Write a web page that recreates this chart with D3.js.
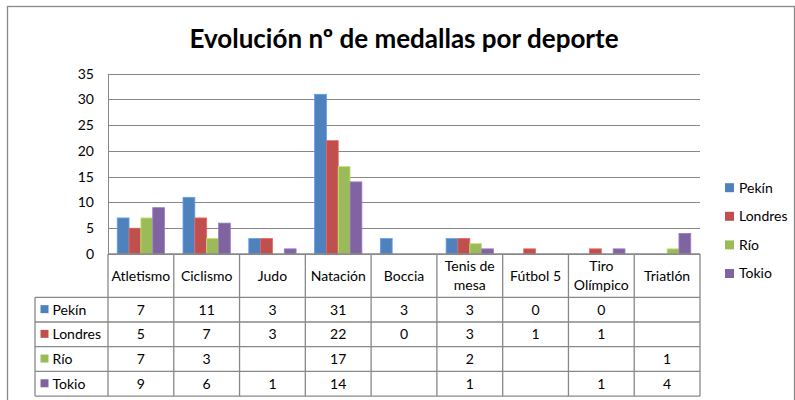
<!DOCTYPE html>
<html>
<head>
<meta charset="utf-8">
<script src="https://cdn.jsdelivr.net/npm/d3@7"></script>
<style>
  body { margin: 0; background: #fff; }
  text { font-family: Lato, "Open Sans", sans-serif; fill: #000; }
</style>
</head>
<body>
<div id="chart"></div>
<script>
const categories = ["Atletismo", "Ciclismo", "Judo", "Natación", "Boccia", "Tenis de\nmesa", "Fútbol 5", "Tiro\nOlímpico", "Triatlón"];
const seriesNames = ["Pekín", "Londres", "Río", "Tokio"];
const pekin   = [7, 11, 3, 31, 3, 3, 0, 0, null];
const londres = [5, 7, 3, 22, 0, 3, 1, 1, null];
const rio     = [7, 3, null, 17, null, 2, null, null, 1];
const tokio   = [9, 6, 1, 14, null, 1, null, 1, 4];
const yTicks  = [0, 5, 10, 15, 20, 25, 30, 35];
const colors  = ["#4F81BD", "#C0504D", "#9BBB59", "#8064A2"];

const values = [pekin, londres, rio, tokio];
const W = 795, H = 400;
const plot = { left: 108, right: 700, top: 73.7, bottom: 254 };
const table = { left: 35, headerBottom: 297.3, rowH: 24.7 };
const gridColor = "#888888";

const svg = d3.select("#chart").append("svg")
  .attr("width", W).attr("height", H);

// outer frame
svg.append("rect")
  .attr("x", 7.5).attr("y", 6.5).attr("width", 787).attr("height", 420)
  .attr("fill", "none").attr("stroke", gridColor).attr("stroke-width", 1.3);

svg.append("text")
  .attr("x", 404).attr("y", 47.5)
  .attr("text-anchor", "middle")
  .style("font-size", "26px").style("font-weight", "bold")
  .text("Evolución nº de medallas por deporte");

const x = d3.scaleBand().domain(categories).range([plot.left, plot.right]);
const xs = d3.scaleBand().domain(seriesNames).range([0, x.bandwidth()]).paddingOuter(0.78);
const y = d3.scaleLinear().domain([0, 35]).range([plot.bottom, plot.top]);

// gridlines
svg.append("g").selectAll("line").data(yTicks).join("line")
  .attr("x1", plot.left).attr("x2", plot.right)
  .attr("y1", d => Math.round(y(d)) + 0.5).attr("y2", d => Math.round(y(d)) + 0.5)
  .attr("stroke", gridColor).attr("stroke-width", 1);

// y axis
const yAxis = svg.append("g")
  .attr("transform", `translate(${plot.left},0)`)
  .call(d3.axisLeft(y).tickValues(yTicks).tickSize(0).tickPadding(14));
yAxis.select(".domain").attr("stroke", gridColor);
yAxis.selectAll("text").style("font-size", "14px").style("font-family", "Lato, sans-serif").attr("fill", "#000");

// bars
seriesNames.forEach((s, si) => {
  svg.append("g").selectAll("rect")
    .data(values[si].map((v, i) => ({ c: categories[i], v })).filter(d => d.v))
    .join("rect")
    .attr("x", d => x(d.c) + xs(s))
    .attr("width", xs.bandwidth())
    .attr("y", d => y(d.v))
    .attr("height", d => y(0) - y(d.v))
    .attr("fill", colors[si])
    .attr("stroke", d3.color(colors[si]).brighter(0.6))
    .attr("stroke-width", 0.8);
});

// data table
const tb = svg.append("g");
const rowY = i => table.headerBottom + i * table.rowH;
const tableBottom = rowY(seriesNames.length);
const line = (x1, y1, x2, y2) => tb.append("line")
  .attr("x1", x1).attr("y1", y1).attr("x2", x2).attr("y2", y2)
  .attr("stroke", gridColor).attr("stroke-width", 1.3);

// vertical column borders
line(plot.left, plot.bottom, plot.left, tableBottom);
categories.forEach(c => line(x(c) + x.bandwidth(), plot.bottom, x(c) + x.bandwidth(), tableBottom));
line(table.left, table.headerBottom, table.left, tableBottom);
// horizontal row borders
line(plot.left, plot.bottom, plot.right, plot.bottom);
for (let i = 0; i <= seriesNames.length; i++) line(table.left, rowY(i), plot.right, rowY(i));

// header labels
categories.forEach(c => {
  const parts = c.split("\n");
  const cy = (plot.bottom + table.headerBottom) / 2;
  parts.forEach((p, k) => {
    tb.append("text")
      .attr("x", x(c) + x.bandwidth() / 2)
      .attr("y", cy + (k - (parts.length - 1) / 2) * 19)
      .attr("dy", "0.35em")
      .attr("text-anchor", "middle")
      .style("font-size", "14px")
      .text(p);
  });
});

// rows
seriesNames.forEach((s, si) => {
  const cy = rowY(si) + table.rowH / 2;
  tb.append("rect").attr("x", 40.5).attr("y", cy - 4.5).attr("width", 8).attr("height", 8).attr("fill", colors[si]);
  tb.append("text").attr("x", 52.5).attr("y", cy).attr("dy", "0.35em")
    .style("font-size", "14px").text(s);
  values[si].forEach((v, i) => {
    if (v === null) return;
    tb.append("text")
      .attr("x", x(categories[i]) + x.bandwidth() / 2)
      .attr("y", cy).attr("dy", "0.35em")
      .attr("text-anchor", "middle")
      .style("font-size", "14px")
      .text(v);
  });
});

// legend
const lg = svg.append("g");
seriesNames.forEach((s, si) => {
  const ly = 187.7 + si * 28.6;
  lg.append("rect").attr("x", 725).attr("y", ly - 4.5).attr("width", 9).attr("height", 9).attr("fill", colors[si]);
  lg.append("text").attr("x", 739).attr("y", ly).attr("dy", "0.35em")
    .style("font-size", "14px").text(s);
});
</script>
</body>
</html>
